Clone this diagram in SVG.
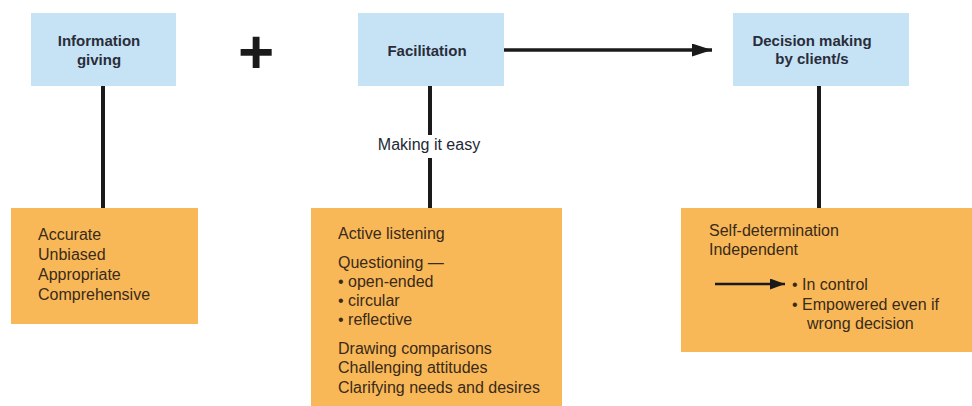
<svg xmlns="http://www.w3.org/2000/svg" width="972" height="406" viewBox="0 0 972 406">
<defs>
<style>
.blue{fill:#c6e3f6}
.orange{fill:#f8b858}
.hd{font-family:"Liberation Sans",Arial,sans-serif;font-size:15px;font-weight:bold;fill:#2a2d3a;text-anchor:middle}
.tx{font-family:"Liberation Sans",Arial,sans-serif;font-size:16px;fill:#3a2a18}
.lbl{font-family:"Liberation Sans",Arial,sans-serif;font-size:16px;fill:#222833;text-anchor:middle}
.ln{stroke:#1a1a1a;stroke-width:4;fill:none}
.ar{stroke:#1a1a1a;stroke-width:3.5;fill:none}
</style>
<marker id="ah" markerWidth="15" markerHeight="11" refX="15" refY="5.5" orient="auto" markerUnits="userSpaceOnUse" viewBox="0 0 15 11">
<path d="M0,0 L15,5.5 L0,11 Z" fill="#1a1a1a"/>
</marker>
<marker id="ah2" markerWidth="20" markerHeight="13" refX="20" refY="6.5" orient="auto" markerUnits="userSpaceOnUse" viewBox="0 0 20 13">
<path d="M0,0 L20,6.5 L0,13 Z" fill="#1a1a1a"/>
</marker>
</defs>
<rect width="972" height="406" fill="#ffffff"/>
<g id="connectors">
<line class="ln" x1="103" y1="86" x2="103" y2="208"/>
<line class="ln" x1="430" y1="86" x2="430" y2="135"/>
<line class="ln" x1="430" y1="158" x2="430" y2="208"/>
<line class="ln" x1="819" y1="86" x2="819" y2="208"/>
<line class="ar" x1="503" y1="50" x2="712" y2="50" marker-end="url(#ah2)"/>
<text class="lbl" x="429" y="150">Making it easy</text>
</g>
<g id="plus">
<text x="256" y="73" font-family="Liberation Sans,Arial,sans-serif" font-weight="bold" font-size="62" fill="#1a1a1a" text-anchor="middle">+</text>
</g>
<g id="info">
<rect class="blue" x="31" y="13" width="145" height="73"/>
<text class="hd" x="99" y="46">Information</text>
<text class="hd" x="99" y="65">giving</text>
</g>
<g id="facilitation">
<rect class="blue" x="358" y="13" width="146" height="73"/>
<text class="hd" x="427" y="56">Facilitation</text>
</g>
<g id="decision">
<rect class="blue" x="733" y="13" width="176" height="73"/>
<text class="hd" x="812" y="46">Decision making</text>
<text class="hd" x="812" y="64">by client/s</text>
</g>
<g id="info-detail">
<rect class="orange" x="11" y="208" width="187" height="116"/>
<text class="tx" x="38" y="240">Accurate</text>
<text class="tx" x="38" y="260">Unbiased</text>
<text class="tx" x="38" y="280">Appropriate</text>
<text class="tx" x="38" y="300">Comprehensive</text>
</g>
<g id="facilitation-detail">
<rect class="orange" x="311" y="208" width="251" height="198"/>
<text class="tx" x="338" y="239">Active listening</text>
<text class="tx" x="338" y="268">Questioning —</text>
<text class="tx" x="338" y="287">• open-ended</text>
<text class="tx" x="338" y="306">• circular</text>
<text class="tx" x="338" y="325">• reflective</text>
<text class="tx" x="338" y="354">Drawing comparisons</text>
<text class="tx" x="338" y="373">Challenging attitudes</text>
<text class="tx" x="338" y="393">Clarifying needs and desires</text>
</g>
<g id="decision-detail">
<rect class="orange" x="681" y="208" width="291" height="144"/>
<text class="tx" x="709" y="236">Self-determination</text>
<text class="tx" x="709" y="255">Independent</text>
<line stroke="#1a1a1a" stroke-width="2.5" x1="715" y1="284" x2="785" y2="284" marker-end="url(#ah)"/>
<text class="tx" x="792" y="290">• In control</text>
<text class="tx" x="792" y="310">• Empowered even if</text>
<text class="tx" x="807" y="329">wrong decision</text>
</g>
</svg>
